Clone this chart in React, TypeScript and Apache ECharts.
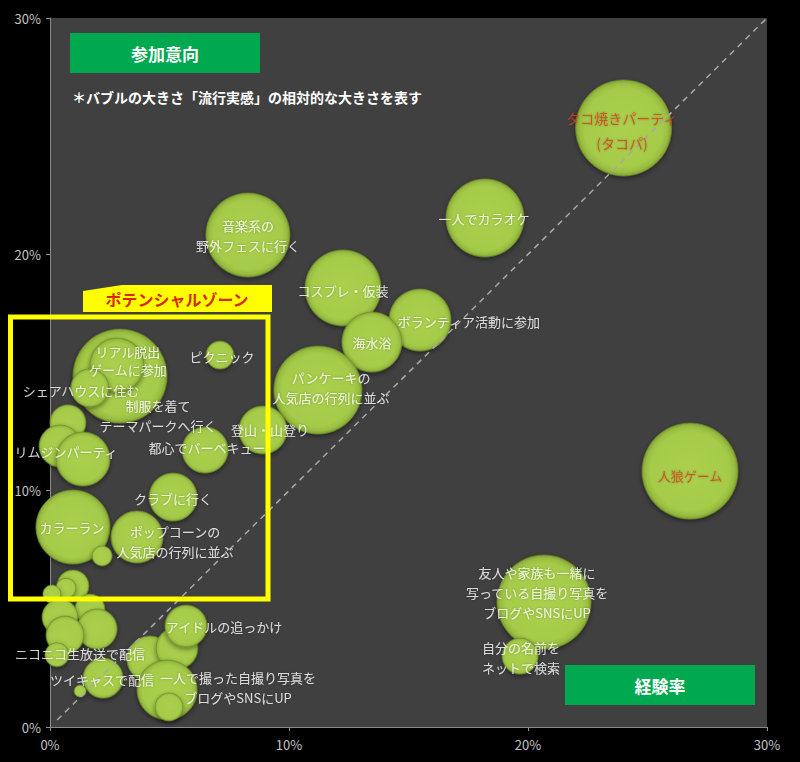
import React, { useEffect, useRef } from 'react';
import * as echarts from 'echarts';

// 横軸: 経験率(%)、縦軸: 参加意向(%)、バブル: 流行実感(相対値)
const bubbleNames = [
  'タコ焼きパーティ', '一人でカラオケ', '音楽系の野外フェスに行く', 'コスプレ・仮装', 'ボランティア活動に参加',
  '海水浴', 'パンケーキの人気店の行列に並ぶ', '登山・山登り', 'ピクニック', '制服を着てテーマパークへ行く',
  'リアル脱出ゲームに参加', 'シェアハウスに住む', '', '', 'リムジンパーティ',
  '都心でバーベキュー', 'クラブに行く', 'カラーラン', 'ポップコーンの人気店の行列に並ぶ', '',
  '', '', '', '', '',
  '', '', 'ニコニコ生放送で配信', 'ツイキャスで配信', '',
  '', '', 'アイドルの追っかけ', '一人で撮った自撮り写真をブログやSNSにUP', '',
  '人狼ゲーム', '友人や家族も一緒に写っている自撮り写真をブログやSNSにUP', '自分の名前をネットで検索',
];
const bubbleX = [
  24.0, 18.2, 8.28, 12.26, 15.48,
  13.47, 11.21, 8.91, 7.11, 2.93,
  2.8, 1.67, 0.75, 0.42, 1.38,
  6.49, 5.15, 0.96, 3.64, 2.18,
  0.96, 0.67, 0.08, 1.67, 0.42,
  1.97, 0.63, 0.29, 2.22, 1.26,
  4.18, 5.31, 5.69, 4.9, 4.98,
  26.78, 20.67, 19.67,
];
const bubbleY = [
  25.35, 21.54, 20.82, 18.58, 17.22,
  16.29, 14.26, 12.57, 15.74, 14.85,
  15.32, 14.35, 12.87, 11.89, 11.34,
  11.72, 9.73, 8.46, 8.04, 7.24,
  5.97, 5.88, 5.63, 4.99, 4.65,
  4.15, 3.89, 3.06, 2.07, 1.52,
  2.88, 3.34, 4.27, 1.57, 0.85,
  10.83, 5.29, 3.0,
];
const bubbleTrend = [
  48, 39, 42, 38, 31,
  30, 44, 24, 14, 47,
  27, 19, 18, 21, 27,
  23, 24, 37, 26, 10,
  16, 10, 9, 15, 18,
  20, 19, 12, 20, 6,
  23, 21, 21, 30, 14,
  48, 47, 18,
];

// バブル内外の文字
const labelTexts = [
  'タコ焼きパーティ\n(タコパ)', '一人でカラオケ', '音楽系の\n野外フェスに行く', 'コスプレ・仮装', 'ボランティア活動に参加',
  '海水浴', 'パンケーキの\n人気店の行列に並ぶ', '登山・山登り', 'ピクニック', 'リアル脱出\nゲームに参加',
  'シェアハウスに住む', '制服を着て\nテーマパークへ行く', 'リムジンパーティ', '都心でバーベキュー', 'クラブに行く',
  'カラーラン', 'ポップコーンの\n人気店の行列に並ぶ', 'アイドルの追っかけ', 'ニコニコ生放送で配信', 'ツイキャスで配信',
  '一人で撮った自撮り写真を\nブログやSNSにUP', '人狼ゲーム', '友人や家族も一緒に\n写っている自撮り写真を\nブログやSNSにUP', '自分の名前を\nネットで検索',
];
const labelX = [
  23.93, 18.16, 8.28, 12.26, 17.53,
  13.47, 11.76, 9.21, 7.2, 3.26,
  1.3, 4.52, 0.67, 6.57, 5.15,
  0.92, 5.23, 7.28, 1.26, 2.18,
  7.87, 26.78, 20.38, 19.71,
];
const labelY = [
  25.26, 21.5, 20.78, 18.49, 17.14,
  16.25, 14.35, 12.57, 15.66, 15.5,
  14.25, 13.16, 11.64, 11.81, 9.65,
  8.46, 7.83, 4.27, 3.13, 1.99,
  1.69, 10.66, 5.67, 2.96,
];
const redLabels = ['タコ焼きパーティ\n(タコパ)', '人狼ゲーム'];

const axisTicks = [0, 10, 20, 30];
const FONT = '"Noto Sans CJK JP", "Noto Sans", sans-serif';

export default function App() {
  const chartRef = useRef<HTMLDivElement>(null);

  useEffect(() => {
    if (!chartRef.current) return;
    const chart = echarts.init(chartRef.current, null, { renderer: 'svg' });

    const bubbleFill = new echarts.graphic.RadialGradient(0.5, 0.5, 0.5, [
      { offset: 0, color: '#aad04e' },
      { offset: 0.82, color: '#a5cb4a' },
      { offset: 0.93, color: '#98bd41' },
      { offset: 1, color: '#7f9f31' },
    ]);

    const points = bubbleX.map((x, i) => ({
      name: bubbleNames[i],
      value: [x, bubbleY[i], bubbleTrend[i]],
    }));

    const bubbleStyle = {
      color: bubbleFill,
      opacity: 1,
      borderColor: '#6e8c28',
      borderWidth: 0.6,
      shadowColor: 'rgba(0,0,0,0.45)',
      shadowBlur: 5,
      shadowOffsetY: 2,
    };

    const labels = labelTexts.map((t, i) => {
      const isTako = t.startsWith('タコ焼き');
      const isEscape = t.startsWith('リアル脱出');
      return {
        name: t,
        value: [labelX[i], labelY[i]],
        label: {
          color: redLabels.includes(t) ? '#dc3f1c' : '#ffffff',
          lineHeight: isTako ? 25 : isEscape ? 18 : 20,
          fontSize: isTako ? 14 : 13,
        },
      };
    });

    const axisCommon = {
      type: 'value' as const,
      min: axisTicks[0],
      max: axisTicks[axisTicks.length - 1],
      interval: 10,
      axisLine: { show: true, lineStyle: { color: '#8c8c8c', width: 1 } },
      axisTick: { show: true, length: 4, lineStyle: { color: '#8c8c8c' } },
      axisLabel: { formatter: '{value}%', color: '#c4c4c4', fontSize: 13, fontFamily: FONT },
      splitLine: { show: false },
    };

    chart.setOption({
      animation: false,
      backgroundColor: '#000000',
      textStyle: { fontFamily: FONT },
      grid: {
        left: 50,
        top: 18,
        right: 33,
        bottom: 35,
        show: true,
        backgroundColor: '#404040',
        borderWidth: 0,
      },
      xAxis: { ...axisCommon, axisLabel: { ...axisCommon.axisLabel, margin: 11 } },
      yAxis: { ...axisCommon, axisLabel: { ...axisCommon.axisLabel, margin: 9 } },
      series: [
        {
          // 対角線の下に描くバブル
          type: 'scatter',
          silent: true,
          data: points.slice(0, 1),
          symbolSize: (v: number[]) => v[2] * 2,
          itemStyle: bubbleStyle,
        },
        {
          type: 'line',
          silent: true,
          symbol: 'none',
          data: [[0.3, 0.3], [30, 30]],
          lineStyle: { color: '#a8a8a8', width: 1.5, type: [6, 5] },
        },
        {
          type: 'scatter',
          silent: true,
          data: points.slice(1),
          symbolSize: (v: number[]) => v[2] * 2,
          itemStyle: bubbleStyle,
        },
        {
          type: 'scatter',
          silent: true,
          symbolSize: 0,
          data: labels,
          label: {
            show: true,
            position: 'inside',
            formatter: (p: any) => p.name,
            fontFamily: FONT,
            align: 'center',
            verticalAlign: 'middle',
            textShadowColor: 'rgba(0,0,0,0.35)',
            textShadowBlur: 2,
          },
          z: 5,
        },
      ],
      graphic: [
        {
          type: 'rect',
          z: 100,
          shape: { x: 70, y: 33, width: 190, height: 40 },
          style: { fill: '#00a84f' },
        },
        {
          type: 'text',
          z: 101,
          x: 165,
          y: 53,
          style: {
            text: '参加意向',
            fill: '#ffffff',
            font: `bold 17px ${FONT}`,
            align: 'center',
            verticalAlign: 'middle',
          },
        },
        {
          type: 'text',
          z: 101,
          x: 72,
          y: 97,
          style: {
            text: '＊バブルの大きさ「流行実感」の相対的な大きさを表す',
            fill: '#ffffff',
            font: `bold 14px ${FONT}`,
            align: 'left',
            verticalAlign: 'middle',
          },
        },
        {
          type: 'rect',
          z: 100,
          shape: { x: 565, y: 665, width: 190, height: 40 },
          style: { fill: '#00a84f' },
        },
        {
          type: 'text',
          z: 101,
          x: 660,
          y: 685,
          style: {
            text: '経験率',
            fill: '#ffffff',
            font: `bold 17px ${FONT}`,
            align: 'center',
            verticalAlign: 'middle',
          },
        },
        {
          type: 'polygon',
          z: 100,
          shape: { points: [[83, 291], [122, 285], [272, 285], [272, 312], [83, 312]] },
          style: { fill: '#ffff00' },
        },
        {
          type: 'text',
          z: 101,
          x: 177,
          y: 299,
          style: {
            text: 'ポテンシャルゾーン',
            fill: '#d42a00',
            font: `bold 16px ${FONT}`,
            align: 'center',
            verticalAlign: 'middle',
          },
        },
        {
          type: 'rect',
          z: 100,
          shape: { x: 10.5, y: 317, width: 257.5, height: 282 },
          style: { fill: 'none', stroke: '#ffff00', lineWidth: 5 },
        },
      ],
    });

    return () => {
      chart.dispose();
    };
  }, []);

  return (
    <div
      ref={chartRef}
      style={{ position: 'fixed', left: 0, top: 0, width: 800, height: 762, background: '#000' }}
    />
  );
}
